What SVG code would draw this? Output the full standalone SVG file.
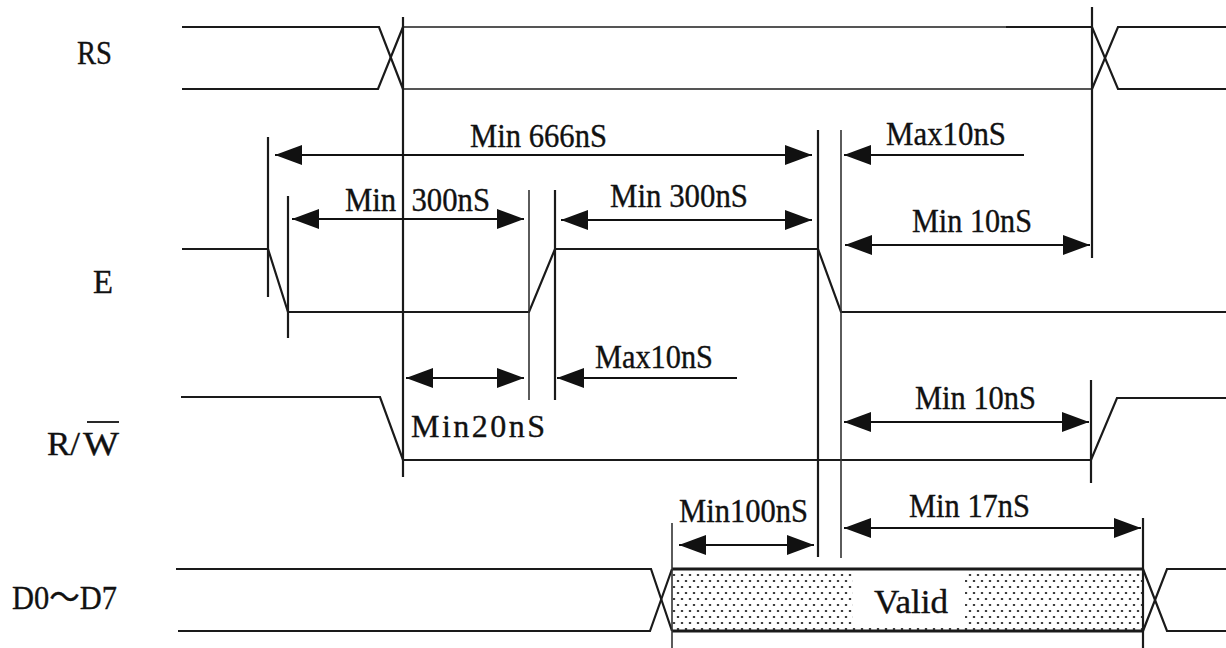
<svg xmlns="http://www.w3.org/2000/svg" width="1226" height="648" viewBox="0 0 1226 648">
<style>
text{font-family:"Liberation Serif","Times New Roman","Noto Sans CJK SC",serif;font-size:33px;fill:#111;stroke:#111;stroke-width:0.35}
.sig{fill:none;stroke:#1a1a1a;stroke-width:2.2;stroke-linejoin:miter}
.sigl{fill:none;stroke:#555;stroke-width:2.2}
.v{stroke:#1a1a1a;stroke-width:2.2}
.vt{stroke:#333;stroke-width:1.6}
.arr{stroke:#111;stroke-width:2.2;fill:none}
.da{marker-start:url(#ah);marker-end:url(#ah)}
.sa{marker-end:url(#ah)}
</style>
<defs>
<marker id="ah" markerUnits="userSpaceOnUse" markerWidth="27" markerHeight="20" refX="27" refY="10" orient="auto-start-reverse" viewBox="0 0 27 20">
<path d="M0,0 L27,10 L0,20 Z" fill="#111"/>
</marker>
<pattern id="dots" patternUnits="userSpaceOnUse" width="8" height="12" x="672" y="572">
<ellipse cx="2" cy="3" rx="1.3" ry="1" fill="#222"/>
<ellipse cx="6" cy="9" rx="1.3" ry="1" fill="#222"/>
</pattern>
</defs>
<rect width="1226" height="648" fill="#fff"/>

<g id="labels">
<text x="77" y="64" textLength="35" lengthAdjust="spacingAndGlyphs">RS</text>
<text x="93" y="293" textLength="20" lengthAdjust="spacingAndGlyphs">E</text>
<text x="47" y="455" textLength="33" lengthAdjust="spacingAndGlyphs">R/</text>
<text x="83" y="455" textLength="36" lengthAdjust="spacingAndGlyphs">W</text>
<line x1="87" y1="422" x2="119" y2="422" stroke="#111" stroke-width="1.8"/>
<text x="12" y="609" textLength="105" lengthAdjust="spacingAndGlyphs">D0～D7</text>
</g>

<g id="RS">
<path class="sig" d="M182,27 H379 L403,89"/>
<path class="sig" d="M182,89 H378 L403,27"/>
<path class="sigl" d="M403,27 H1006"/>
<path class="sig" d="M1006,27 H1092 L1118,89 H1226"/>
<path class="sigl" d="M403,89 H1092"/>
<path class="sig" d="M1092,89 L1118,27 H1226"/>
</g>

<g id="E">
<path class="sig" d="M182,249 H268 L288,312 H529 L555,249 H818 L841,312 H1226"/>
</g>

<g id="RW">
<path class="sig" d="M181,397 H380 L403,460 H1091 L1117,398 H1226"/>
</g>

<g id="D0D7">
<path class="sig" d="M176,569 H651 L672,631"/>
<path class="sig" d="M178,631 H650 L672,569"/>
<rect x="672" y="569" width="471" height="62" fill="url(#dots)"/>
<rect x="853" y="573" width="112" height="55" fill="#fff"/>
<line x1="672" y1="569" x2="1143" y2="569" stroke="#1a1a1a" stroke-width="3"/>
<line x1="672" y1="631" x2="1143" y2="631" stroke="#1a1a1a" stroke-width="3"/>
<path class="sig" d="M1143,569 L1167,631 H1226"/>
<path class="sig" d="M1143,631 L1167,569 H1226"/>
<text x="874" y="613" textLength="74" lengthAdjust="spacingAndGlyphs">Valid</text>
</g>

<g id="guides">
<line class="v" x1="403" y1="17" x2="403" y2="477"/>
<line class="v" x1="268" y1="137" x2="268" y2="297"/>
<line class="v" x1="288" y1="196" x2="288" y2="338"/>
<line class="vt" x1="529" y1="190" x2="529" y2="400"/>
<line class="v" x1="555" y1="190" x2="555" y2="400"/>
<line class="v" x1="818" y1="130" x2="818" y2="557"/>
<line class="vt" x1="841" y1="130" x2="841" y2="558"/>
<line class="v" x1="1092" y1="7" x2="1092" y2="258"/>
<line class="v" x1="1091" y1="380" x2="1091" y2="483"/>
<line class="vt" x1="672" y1="523" x2="672" y2="648"/>
<line class="v" x1="1143" y1="518" x2="1143" y2="648"/>
</g>

<g id="connectors">
<line class="arr da" x1="275" y1="155" x2="812" y2="155"/>
<line class="arr sa" x1="1024" y1="155" x2="844" y2="155"/>
<line class="arr da" x1="292" y1="219" x2="524" y2="219"/>
<line class="arr da" x1="561" y1="220" x2="812" y2="220"/>
<line class="arr da" x1="845" y1="245" x2="1090" y2="245"/>
<line class="arr da" x1="406" y1="378" x2="524" y2="378"/>
<line class="arr sa" x1="737" y1="378" x2="557" y2="378"/>
<line class="arr da" x1="844" y1="422" x2="1089" y2="422"/>
<line class="arr da" x1="679" y1="545" x2="814" y2="545"/>
<line class="arr da" x1="844" y1="528" x2="1141" y2="528"/>
</g>

<g id="timing-labels">
<text x="470" y="147" textLength="137" lengthAdjust="spacingAndGlyphs">Min 666nS</text>
<text x="886" y="145" textLength="120" lengthAdjust="spacingAndGlyphs">Max10nS</text>
<text x="345" y="211" xml:space="preserve" textLength="145" lengthAdjust="spacingAndGlyphs">Min  300nS</text>
<text x="610" y="207" textLength="138" lengthAdjust="spacingAndGlyphs">Min 300nS</text>
<text x="912" y="232" textLength="120" lengthAdjust="spacingAndGlyphs">Min 10nS</text>
<text x="595" y="368" textLength="118" lengthAdjust="spacingAndGlyphs">Max10nS</text>
<text x="411" y="437" textLength="134" lengthAdjust="spacing" style="font-size:32px">Min20nS</text>
<text x="915" y="409" textLength="121" lengthAdjust="spacingAndGlyphs">Min 10nS</text>
<text x="679" y="522" textLength="129" lengthAdjust="spacingAndGlyphs">Min100nS</text>
<text x="909" y="517" textLength="121" lengthAdjust="spacingAndGlyphs">Min 17nS</text>
</g>
</svg>
